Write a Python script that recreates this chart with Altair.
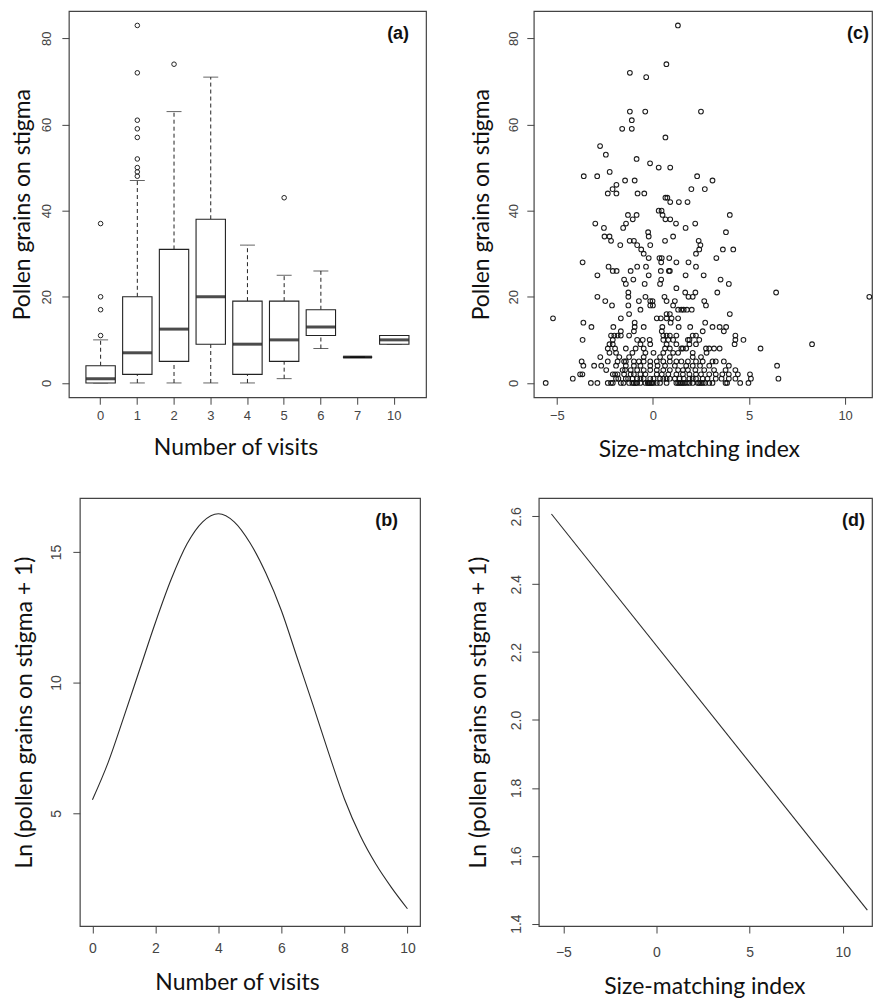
import altair as alt
import pandas as pd

# ---------------- Panel (a): box plot of pollen grains by number of visits
visit_cats = ["0", "1", "2", "3", "4", "5", "6", "7", "10"]
box_q1 = [0, 2, 5, 9, 2, 5, 11, 6, 9]
box_median = [1, 7, 12.5, 20, 9, 10, 13, 6, 10]
box_q3 = [4, 20, 31, 38, 19, 19, 17, 6, 11]
whisker_low = [0, 0, 0, 0, 0, 1, 8, 6, 9]
whisker_high = [10, 47, 63, 71, 32, 25, 26, 6, 11]
outlier_cats = ["0"] * 4 + ["1"] * 9 + ["2"] + ["5"]
outlier_values = [11, 17, 20, 37, 48, 49, 50, 52, 57, 59, 61, 72, 83, 74, 43]

# ---------------- Panel (b): fitted curve vs number of visits
curve_visits = [0, 0.5, 1, 1.5, 2, 2.5, 3, 3.5, 4, 4.5, 5, 5.5, 6, 6.5, 7, 7.5, 8, 8.5, 9, 9.5, 10]
curve_ln = [5.52, 6.95, 8.7, 10.5, 12.3, 13.95, 15.3, 16.15, 16.46, 16.15, 15.35,
            14.2, 12.75, 10.95, 9.15, 7.3, 5.55, 4.15, 3.05, 2.15, 1.35]

# ---------------- Panel (c): scatter, pollen count vs size-matching index
scatter_counts = list(range(0, 36)) + [36, 37, 38, 39, 40, 42, 43, 44, 45, 46, 47, 48, 49,
                                      50, 51, 52, 53, 55, 57, 59, 61, 63, 71, 72, 74, 83]
scatter_smi = [
    [-5.58, -3.23, -2.89, -2.35, -2.18, -2.09, -1.67, -1.53, -1.24, -1.07, -0.99, -0.9, -0.82, -0.65,
     -0.39, -0.27, -0.22, -0.17, -0.1, -0.05, 0.03, 0.2, 0.37, 0.71, 1.22, 1.31, 1.39, 1.48, 1.56,
     1.65, 1.77, 1.9, 2.07, 2.33, 2.41, 2.5, 2.59, 2.72, 2.93, 3.1, 3.78, 3.86, 4.54, 4.97],
    [-4.17, -1.92, -1.8, -1.41, -1.29, -1.07, -0.82, -0.65, -0.48, -0.14, 0.03, 0.37, 0.54, 0.71,
     0.88, 1.14, 1.39, 1.6, 1.9, 2.07, 2.24, 2.59, 2.84, 3.27, 3.57, 3.95, 4.29, 5.1, 6.53],
    [-3.79, -3.67, -2.09, -1.97, -1.84, -1.5, -1.16, -0.99, -0.65, -0.39, 0.2, 0.46, 0.8, 1.22,
     1.56, 1.9, 2.24, 2.5, 2.93, 3.27, 3.61, 3.95, 4.42, 5.05],
    [-2.43, -1.58, -1.45, -1.16, -0.82, -0.48, -0.14, 0.2, 0.54, 0.88, 1.31, 1.56, 1.82, 2.21,
     2.67, 3.18, 3.78, 4.29],
    [-3.62, -3.06, -2.69, -1.92, -1.41, -0.99, -0.65, -0.14, 0.24, 0.63, 1.14, 1.73, 2.07, 2.45,
     2.93, 3.95, 6.46],
    [-3.71, -2.35, -1.84, -1.5, -1.41, -0.99, -0.73, -0.48, -0.14, 0.2, 0.54, 0.88, 1.22, 1.48,
     1.82, 2.24, 2.59, 3.1, 3.27, 3.69],
    [-2.74, -1.75, -1.24, -0.48, 0.37, 0.88, 2.07, 2.5],
    [-2.26, -1.92, -1.07, -0.39, 0.03, 0.54, 1.05, 1.31, 2.07, 2.79],
    [-2.35, -1.97, -1.41, -0.9, -0.48, 0.63, 0.88, 1.48, 1.56, 1.73, 2.76, 2.93, 3.18, 3.47, 5.6],
    [-2.26, -2.09, -0.65, -0.14, 0.71, 1.22, 1.9, 2.24, 4.25, 8.28],
    [-3.66, -2.09, -0.82, -0.53, -0.17, 0.54, 0.8, 1.05, 1.82, 1.9, 2.41, 4.29, 4.71],
    [-2.18, -2.01, -1.84, -1.67, -1.24, 0.54, 0.71, 0.88, 1.22, 2.07, 2.24, 4.29],
    [-1.67, -0.99, 0.46, 2.59, 3.69],
    [-3.2, -2.06, -0.95, -0.48, 0.49, 1.34, 1.94, 3.1, 3.47, 3.81],
    [-3.62, -0.95, 0.92, 2.72],
    [-5.2, -1.67, 0.2, 0.41, 0.71, 0.97, 1.31],
    [-1.24, 0.71, 0.88, 4.0],
    [-0.65, 1.31, 1.48, 1.6, 1.77, 2.02],
    [-2.13, -1.28, -0.14, 0.0, 1.05, 2.76],
    [-2.48, -0.73, -0.14, -0.02, 0.71, 1.14, 2.67],
    [-2.89, -1.28, -0.39, 0.6, 1.85, 2.07, 11.26],
    [-1.28, 1.68, 2.21, 3.35, 6.41],
    [1.22],
    [-1.41, -0.43, 0.37, 3.95],
    [-1.5, -1.02, 0.43, 3.52],
    [-2.89, -0.22, 1.7, 2.64],
    [-2.09, -1.89, -1.16, 0.41, 0.83, 0.88],
    [-2.31, -0.82, -0.36, 2.24],
    [-3.66, 0.43, 1.22, 1.85],
    [-0.22, 0.34, 0.46, 0.85, 3.3],
    [-0.48, 2.24],
    [-0.61, 2.41, 3.64, 4.18],
    [-1.7, -0.82, -0.14, 2.47],
    [-2.18, -1.21, -0.99, 0.63, 2.38],
    [-2.52, -2.26, -0.22, 1.05],
    [-0.25, 3.8],
    [-2.55, -1.55, 1.7],
    [-3.0, -1.4, 1.2, 2.2],
    [-1.05, 0.65, 0.9],
    [-1.3, -0.85, 0.5, 4.0],
    [0.3, 0.45],
    [0.9, 1.35, 1.8],
    [0.65, 0.75],
    [-2.35, -1.9, -0.8, -0.45],
    [-2.1, 2.0, 2.7],
    [-1.9],
    [-1.45, -0.95, 3.1],
    [-3.6, -2.9, 2.3],
    [-2.25],
    [0.3, 0.9],
    [-0.15],
    [-0.85],
    [-2.45],
    [-2.75],
    [0.65],
    [-1.6, -1.1],
    [-1.1],
    [-1.2, -0.4, 2.5],
    [-0.35],
    [-1.2],
    [0.7],
    [1.3],
]

# ---------------- Panel (d): fitted line vs size-matching index
line_smi = [-5.64, 11.32]
line_ln = [2.607, 1.44]

# ---------------- styling constants
INK = "#222222"
FRAME = "#444444"
LABEL_FONT = "Liberation Sans"
TITLE_FONT = "Lato"
TITLE_SIZE = 23


def y_axis(title, values, fmt=None, tpad=8, label_size=13, lpad=8):
    kw = dict(
        title=title, values=values, labelAngle=270, labelAlign="center",
        labelBaseline="bottom", minExtent=27, maxExtent=27, titlePadding=tpad,
        labelFontSize=label_size, labelPadding=lpad,
    )
    if fmt:
        kw["format"] = fmt
    return alt.Axis(**kw)


def x_axis(title, values, width, shift=12, tpad=12, label_size=13, lpad=8):
    kw = dict(
        title=title, labelAngle=0, minExtent=27, maxExtent=27,
        titlePadding=tpad, titleX=width / 2 - shift, labelFontSize=label_size,
        labelPadding=lpad,
    )
    if values is not None:
        kw["values"] = values
    return alt.Axis(**kw)


def panel_label(text, xpos, ypos):
    return alt.Chart(pd.DataFrame({"t": [text]})).mark_text(
        font=LABEL_FONT, fontSize=18, fontWeight="bold", align="right",
        baseline="middle", color="#111111",
    ).encode(text="t:N", x=alt.value(xpos), y=alt.value(ypos))


def spacer(w):
    # empty, invisible cell used only to offset the bottom-row panels
    return alt.Chart(pd.DataFrame({"z": [0]})).mark_point(size=1, opacity=0).encode(
        x=alt.value(2), y=alt.value(2)
    ).properties(width=w, height=5, view=alt.ViewBackground(strokeOpacity=0))


# ---------------- (a)
WA, HA = 358, 387
box_df = pd.DataFrame({
    "visit": visit_cats, "q1": box_q1, "median": box_median, "q3": box_q3,
    "lo": whisker_low, "hi": whisker_high,
})
out_df = pd.DataFrame({"visit": outlier_cats, "value": outlier_values})

xa = alt.X("visit:O", sort=visit_cats,
           scale=alt.Scale(paddingInner=0.2, paddingOuter=0.465),
           axis=x_axis("Number of visits", None, WA, shift=12, tpad=12, lpad=5))
ya_scale = alt.Scale(domain=[-3.32, 86.32], nice=False, zero=False)
ya_axis = y_axis("Pollen grains on stigma", [0, 20, 40, 60, 80], tpad=7)

base_a = alt.Chart(box_df)
whisk_low = base_a.mark_rule(color=INK, strokeDash=[4, 3], strokeWidth=1).encode(
    x=xa, y=alt.Y("lo:Q", scale=ya_scale, axis=ya_axis), y2="q1:Q")
whisk_high = base_a.mark_rule(color=INK, strokeDash=[4, 3], strokeWidth=1).encode(
    x=xa, y=alt.Y("q3:Q", scale=ya_scale, axis=ya_axis), y2="hi:Q")
cap_low = base_a.mark_tick(color=INK, size=15, thickness=1).encode(
    x=xa, y=alt.Y("lo:Q", scale=ya_scale, axis=ya_axis))
cap_high = base_a.mark_tick(color=INK, size=15, thickness=1).encode(
    x=xa, y=alt.Y("hi:Q", scale=ya_scale, axis=ya_axis))
boxes = base_a.mark_bar(fill="white", stroke=INK, strokeWidth=1.1).encode(
    x=xa, y=alt.Y("q1:Q", scale=ya_scale, axis=ya_axis), y2="q3:Q")
medians = base_a.mark_tick(color="#000000", size=29, thickness=3).encode(
    x=xa, y=alt.Y("median:Q", scale=ya_scale, axis=ya_axis))
outliers = alt.Chart(out_df).mark_point(
    shape="circle", filled=False, size=21, color=INK, strokeWidth=1, opacity=1
).encode(x=xa, y=alt.Y("value:Q", scale=ya_scale, axis=ya_axis))

chart_a = alt.layer(
    whisk_low, whisk_high, cap_low, cap_high, boxes, medians, outliers,
    panel_label("(a)", 341, 23),
).properties(width=WA, height=HA)

# ---------------- (c)
WC, HC = 339, 387
sc_x, sc_y = [], []
for cnt, xs in zip(scatter_counts, scatter_smi):
    for v in xs:
        sc_x.append(v)
        sc_y.append(cnt)
sc_df = pd.DataFrame({"smi": sc_x, "pollen": sc_y})

chart_c = alt.layer(
    alt.Chart(sc_df).mark_point(
        shape="circle", filled=False, size=22, color="#111111", strokeWidth=1.1, opacity=0.95
    ).encode(
        x=alt.X("smi:Q", scale=alt.Scale(domain=[-6.2, 11.4], nice=False, zero=False),
                axis=x_axis("Size-matching index", [-5, 0, 5, 10], WC, shift=4, tpad=14, lpad=5)),
        y=alt.Y("pollen:Q", scale=alt.Scale(domain=[-3.32, 86.32], nice=False, zero=False),
                axis=y_axis("Pollen grains on stigma", [0, 20, 40, 60, 80], tpad=13, lpad=6)),
    ),
    panel_label("(c)", WC - 3, 23),
).properties(width=WC, height=HC)

# ---------------- (b)
WB, HB = 341, 429
curve_df = pd.DataFrame({"visits": curve_visits, "ln": curve_ln})
chart_b = alt.layer(
    alt.Chart(curve_df).mark_line(color="#2a2a2a", strokeWidth=1.1, interpolate="monotone").encode(
        x=alt.X("visits:Q", scale=alt.Scale(domain=[-0.4, 10.4], nice=False, zero=False),
                axis=x_axis("Number of visits", [0, 2, 4, 6, 8, 10], WB, shift=13, tpad=19,
                            label_size=14, lpad=9)),
        y=alt.Y("ln:Q", scale=alt.Scale(domain=[0.69, 17.06], nice=False, zero=False),
                axis=y_axis("Ln (pollen grains on stigma + 1)", [5, 10, 15], tpad=16,
                            label_size=14, lpad=9)),
    ),
    panel_label("(b)", 319, 23),
).properties(width=WB, height=HB)

# ---------------- (d)
WD, HD = 334, 429
line_df = pd.DataFrame({"smi": line_smi, "ln": line_ln})
chart_d = alt.layer(
    alt.Chart(line_df).mark_line(color="#2a2a2a", strokeWidth=1.1).encode(
        x=alt.X("smi:Q", scale=alt.Scale(domain=[-6.32, 11.57], nice=False, zero=False),
                axis=x_axis("Size-matching index", [-5, 0, 5, 10], WD, shift=1, tpad=23,
                            label_size=14, lpad=13)),
        y=alt.Y("ln:Q", scale=alt.Scale(domain=[1.393, 2.654], nice=False, zero=False),
                axis=y_axis("Ln (pollen grains on stigma + 1)",
                            [1.4, 1.6, 1.8, 2.0, 2.2, 2.4, 2.6], fmt=".1f", tpad=21,
                            label_size=14, lpad=8)),
    ),
    panel_label("(d)", 327, 23),
).properties(width=WD, height=HD)

row1 = alt.hconcat(chart_a, chart_c, spacing=108, bounds="flush")
row2 = alt.hconcat(spacer(11), chart_b, spacer(119), chart_d, spacing=0, bounds="flush")

chart = alt.vconcat(row1, row2, spacing=35).properties(
    padding={"left": 3, "top": 1, "right": 0, "bottom": 0},
    background="white",
).configure_view(
    stroke=FRAME, strokeWidth=1.2,
).configure_axis(
    domain=False, grid=False, ticks=True, tickSize=7, tickColor=FRAME, tickWidth=1,
    labelFont=LABEL_FONT, labelColor="#444444",
    titleFont=TITLE_FONT, titleFontSize=TITLE_SIZE, titleFontWeight="normal",
    titleColor="#111111",
)

chart.save("out.html", embed_options={"renderer": "svg", "actions": False})
